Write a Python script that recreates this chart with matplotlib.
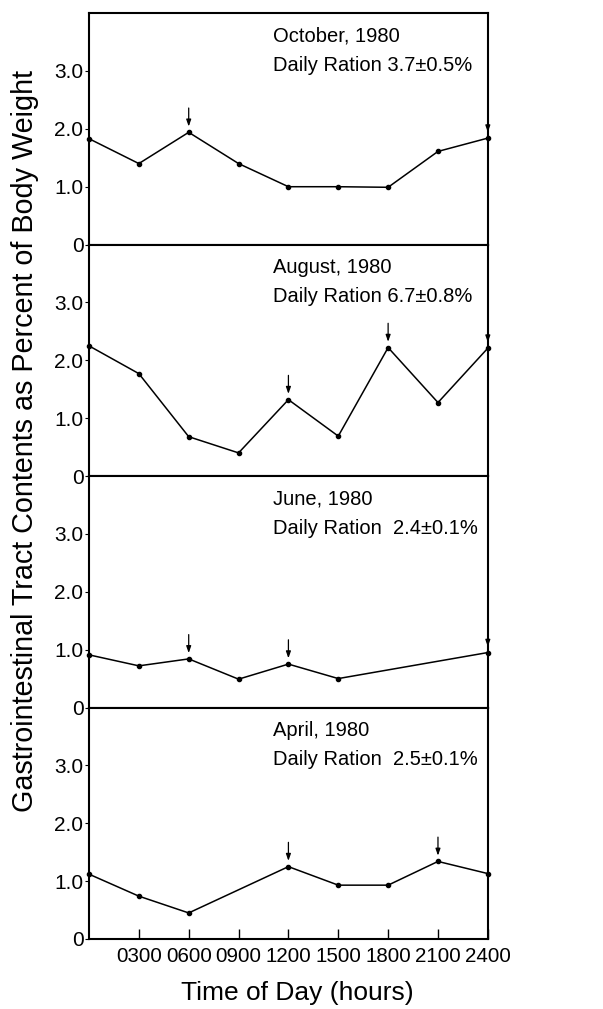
import matplotlib
matplotlib.use("Agg")
import matplotlib.pyplot as plt

plt.rcParams['font.family'] = ['Liberation Sans', 'DejaVu Sans']

# hours of sampling and gut contents (% body weight), one set per month
oct_hours = [0, 3, 6, 9, 12, 15, 18, 21, 24]
oct_vals = [1.83, 1.40, 1.94, 1.40, 1.00, 1.00, 0.99, 1.61, 1.84]
oct_arrows = [6, 24]

aug_hours = [0, 3, 6, 9, 12, 15, 18, 21, 24]
aug_vals = [2.25, 1.77, 0.68, 0.40, 1.32, 0.69, 2.22, 1.27, 2.21]
aug_arrows = [12, 18, 24]

jun_hours = [0, 3, 6, 9, 12, 15, 24]
jun_vals = [0.91, 0.72, 0.84, 0.49, 0.75, 0.50, 0.95]
jun_arrows = [6, 12, 24]

apr_hours = [0, 3, 6, 12, 15, 18, 21, 24]
apr_vals = [1.12, 0.74, 0.45, 1.25, 0.93, 0.93, 1.34, 1.13]
apr_arrows = [12, 21]

titles = ["October, 1980", "August, 1980", "June, 1980", "April, 1980"]
rations = ["Daily Ration 3.7\u00b10.5%", "Daily Ration 6.7\u00b10.8%",
           "Daily Ration  2.4\u00b10.1%", "Daily Ration  2.5\u00b10.1%"]

xticks = [3, 6, 9, 12, 15, 18, 21, 24]
xtick_labels = ["0300", "0600", "0900", "1200", "1500", "1800", "2100", "2400"]
yticks = [0, 1, 2, 3]
ytick_labels = ["0", "1.0", "2.0", "3.0"]

panels = [(oct_hours, oct_vals, oct_arrows), (aug_hours, aug_vals, aug_arrows),
          (jun_hours, jun_vals, jun_arrows), (apr_hours, apr_vals, apr_arrows)]

fig, axes = plt.subplots(4, 1, figsize=(6.03, 10.09), dpi=100, sharex=True)
fig.subplots_adjust(left=0.1476, right=0.809, top=0.987, bottom=0.0694, hspace=0)

for i, ax in enumerate(axes):
    hours, vals, arrows = panels[i]
    ax.plot(hours, vals, color='black', lw=1.1, marker='o', ms=3.0, clip_on=False, zorder=3)
    for h in arrows:
        v = vals[hours.index(h)]
        ax.annotate("", xy=(h, v + 0.1), xytext=(h, v + 0.42),
                    arrowprops=dict(arrowstyle='-|>,head_length=0.4,head_width=0.14',
                                    color='black', lw=0.9, shrinkA=0, shrinkB=0))
    ax.text(11.1, 3.6, titles[i], fontsize=14.5, va='center')
    ax.text(11.1, 3.1, rations[i], fontsize=14.5, va='center')
    ax.set_xlim(0, 24)
    ax.set_ylim(0, 4)
    ax.set_yticks(yticks)
    ax.set_yticklabels(ytick_labels, fontsize=15)
    ax.tick_params(axis='y', direction='out', length=3, width=0.8, pad=1)
    for s in ax.spines.values():
        s.set_linewidth(1.5)
    if i < 3:
        ax.tick_params(axis='x', length=0)

axes[-1].set_xticks(xticks)
axes[-1].set_xticklabels(xtick_labels, fontsize=14.8)
axes[-1].tick_params(axis='x', direction='in', length=7, width=1.0, pad=6)

fig.text(0.041, 0.563, "Gastrointestinal Tract Contents as Percent of Body Weight",
         rotation=90, fontsize=20.7, ha='center', va='center')
fig.text(0.4925, 0.016, "Time of Day (hours)", fontsize=19, ha='center', va='center')

fig.savefig("out.png", dpi=100)
